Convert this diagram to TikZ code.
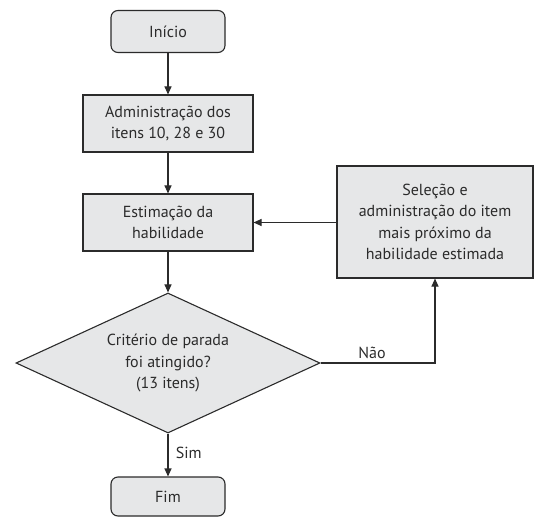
\documentclass[tikz,border=0pt]{standalone}
\usepackage{fontspec}
\setmainfont{PT Sans}
\usetikzlibrary{shapes.geometric,arrows.meta}
\definecolor{boxfill}{HTML}{E6E7E8}
\definecolor{linec}{HTML}{2B2B2B}
\newcommand{\myfont}{\fontsize{16pt}{21.5pt}\selectfont}
\begin{document}
\begin{tikzpicture}[x=1pt,y=1pt,
  base/.style={draw=linec,fill=boxfill,line width=1.1pt,align=center,font=\myfont,text=linec,inner sep=2pt},
  term/.style={base,rounded corners=7pt,minimum width=114pt,minimum height=42pt},
  proc/.style={base,minimum width=170pt,minimum height=57pt},
  dec/.style={base,diamond,aspect=2.17,minimum width=304pt,minimum height=140pt,inner sep=0pt},
  conn/.style={draw=linec,line width=1.1pt,-{Triangle[length=8pt,width=7pt]}},
  lbl/.style={font=\myfont,text=linec}]
\useasboundingbox (0,0) rectangle (534,517);
\node[term] (ini) at (168,485.5) {Início};
\node[proc] (adm) at (168,393.5) {Administração dos\\itens 10, 28 e 30};
\node[proc] (est) at (168,294.5) {Estimação da\\habilidade};
\node[proc,minimum width=196pt,minimum height=112pt] (sel) at (435,295) {Seleção e\\administração do item\\mais próximo da\\habilidade estimada};
\node[dec] (crit) at (168,154) {Critério de parada\\foi atingido?\\(13 itens)};
\node[term,minimum height=39pt] (fim) at (168,20.5) {Fim};
\draw[conn] (ini) -- (adm);
\draw[conn] (adm) -- (est);
\draw[conn] (est) -- (crit);
\draw[conn] (crit) -- node[lbl,right,xshift=4pt,pos=0.45]{Sim} (fim);
\draw[conn] (crit.east) -- node[lbl,above,pos=0.45]{Não} (crit.east -| sel.south) -- (sel.south);
\draw[conn] (sel.west |- est.east) -- (est.east);
\end{tikzpicture}
\end{document}
